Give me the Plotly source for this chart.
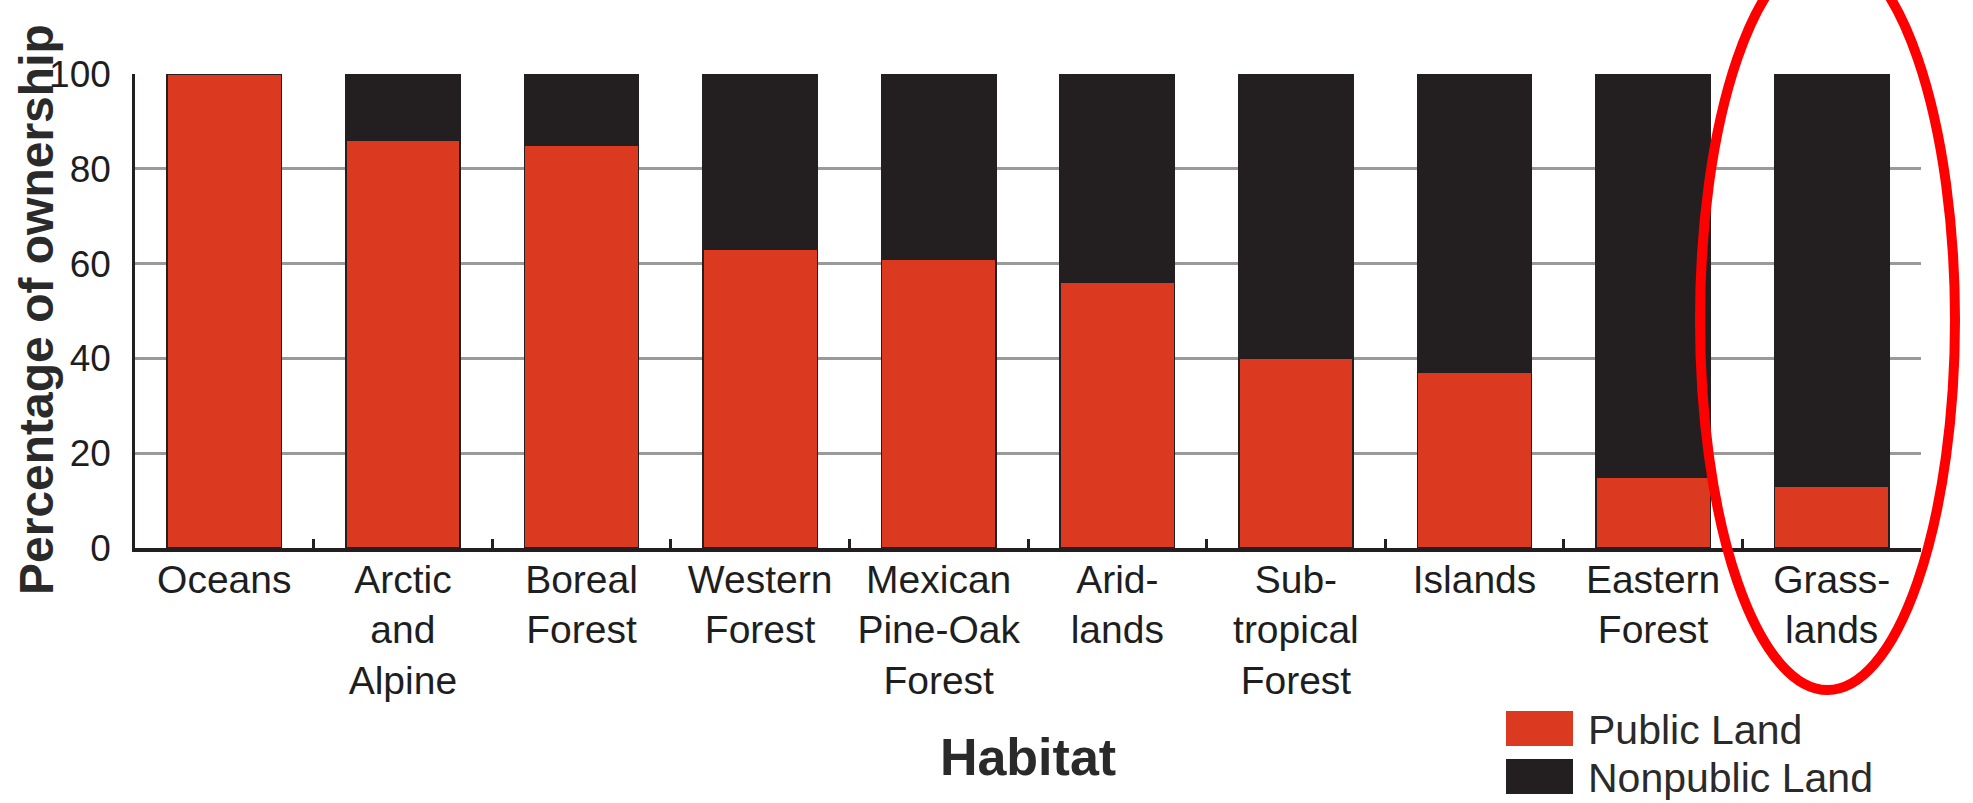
import plotly.graph_objects as go

# Habitat categories (multi-line labels) and share of land by ownership, in percent
habitats = [
    "Oceans",
    "Arctic<br>and<br>Alpine",
    "Boreal<br>Forest",
    "Western<br>Forest",
    "Mexican<br>Pine-Oak<br>Forest",
    "Arid-<br>lands",
    "Sub-<br>tropical<br>Forest",
    "Islands",
    "Eastern<br>Forest",
    "Grass-<br>lands",
]
public_land = [100, 86, 85, 63, 61, 56, 40, 37, 15, 13]
nonpublic_land = [100 - v for v in public_land]

y_ticks = [0, 20, 40, 60, 80, 100]

RED = "#DC3A20"
BLACK = "#231F20"
FONT = "Liberation Sans, Arial, Helvetica, sans-serif"

# page geometry in pixels
W, H = 1973, 803
L, R, T, B = 135, 1921, 74, 548


def px_x(x):
    return (x - L) / (R - L)


def px_y(y):
    return (B - y) / (B - T)


fig = go.Figure()
fig.add_trace(go.Bar(
    x=habitats, y=public_land, name="Public Land",
    marker=dict(color=RED, line=dict(color=BLACK, width=1.5)),
))
fig.add_trace(go.Bar(
    x=habitats, y=nonpublic_land, name="Nonpublic Land",
    marker=dict(color=BLACK, line=dict(color=BLACK, width=1.5)),
))

fig.update_layout(
    width=W, height=H,
    margin=dict(l=L, r=W - R, t=T, b=H - B, pad=0),
    barmode="stack", bargap=0.36,
    plot_bgcolor="white", paper_bgcolor="white",
    showlegend=False,
    font=dict(family=FONT, color="#1e1e1e"),
)

fig.update_xaxes(
    range=[-0.5, 9.5],
    showline=True, linecolor=BLACK, linewidth=3.5,
    ticks="inside", tickson="boundaries", ticklen=9, tickwidth=2.5, tickcolor=BLACK,
    tickfont=dict(size=39, family=FONT, color="#1e1e1e"),
    ticklabelstandoff=-6,
    showgrid=False, zeroline=False,
    title=dict(text="<b>Habitat</b>", font=dict(size=52, family=FONT, color="#2a2a2a"), standoff=39),
)

fig.update_yaxes(
    range=[0, 100], tickvals=y_ticks,
    showline=True, linecolor=BLACK, linewidth=2.5,
    ticks="", ticklabelstandoff=14,
    tickfont=dict(size=37, family=FONT, color="#1e1e1e"),
    showgrid=True, gridcolor="#9a9a9a", gridwidth=2.5,
    zeroline=False,
)

# vertical axis title, placed at a fixed spot left of the tick labels
fig.add_annotation(
    xref="paper", yref="paper", x=px_x(36), y=px_y(310),
    xanchor="center", yanchor="middle", showarrow=False, textangle=-90,
    text="<b>Percentage of ownership</b>",
    font=dict(size=48, family=FONT, color="#2a2a2a"),
)

# highlight ring around the last habitat
fig.add_shape(
    type="circle", xref="paper", yref="paper",
    x0=px_x(1700), x1=px_x(1955), y0=px_y(690), y1=px_y(-50),
    line=dict(color="#FF0000", width=10), fillcolor="rgba(0,0,0,0)",
)

# legend: swatches and labels
legend_items = [("Public Land", RED, 711, 746), ("Nonpublic Land", BLACK, 759, 794)]
for label, color, top, bottom in legend_items:
    fig.add_shape(
        type="rect", xref="paper", yref="paper",
        x0=px_x(1506), x1=px_x(1573), y0=px_y(bottom), y1=px_y(top),
        fillcolor=color, line=dict(width=0),
    )
    fig.add_annotation(
        xref="paper", yref="paper", x=px_x(1586), y=px_y((top + bottom) / 2 + 1),
        xanchor="left", yanchor="middle", showarrow=False,
        text=label, font=dict(size=41, family=FONT, color="#2a2a2a"),
    )

fig.write_html("out.html")
